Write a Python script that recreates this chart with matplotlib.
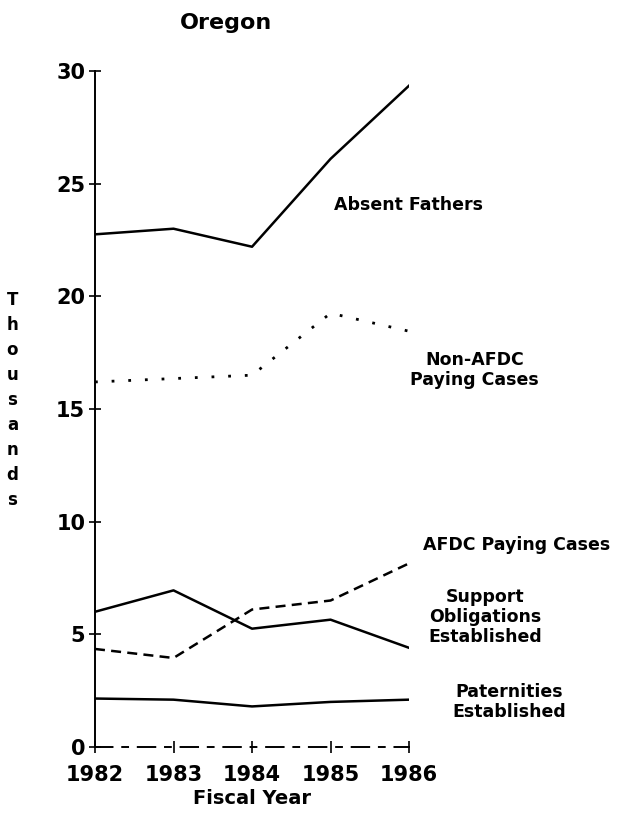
import matplotlib.pyplot as plt

# Oregon child support enforcement, thousands
years = [1982, 1983, 1984, 1985, 1986]
absent_fathers = [22.75, 23.0, 22.2, 26.1, 29.35]
non_afdc_paying = [16.2, 16.35, 16.5, 19.25, 18.45]
afdc_paying = [4.35, 3.95, 6.1, 6.5, 8.15]
support_oblig = [6.0, 6.95, 5.25, 5.65, 4.4]
paternities = [2.15, 2.1, 1.8, 2.0, 2.1]

yticks = [0, 5, 10, 15, 20, 25, 30]

fig = plt.figure(figsize=(6.22, 8.13), dpi=100)
ax = fig.add_axes([0.1527, 0.0812, 0.505, 0.8315])

ax.plot(years, absent_fathers, color='black', lw=1.8)
ax.plot(years, non_afdc_paying, color='black', lw=2.0, linestyle=(0, (1, 5)))
ax.plot(years, afdc_paying, color='black', lw=1.8, linestyle=(0, (4, 2.5)))
ax.plot(years, support_oblig, color='black', lw=1.8)
ax.plot(years, paternities, color='black', lw=1.8)

ax.set_xlim(1982, 1986)
ax.set_ylim(0, 30)
ax.set_xticks(years)
ax.set_yticks(yticks)
ax.tick_params(axis='both', direction='inout', length=8, width=1.2, labelsize=15)
ax.tick_params(axis='x', pad=9)
ax.tick_params(axis='y', pad=3)
for lab in ax.get_xticklabels() + ax.get_yticklabels():
    lab.set_fontweight('bold')

ax.spines['top'].set_visible(False)
ax.spines['right'].set_visible(False)
ax.spines['left'].set_linewidth(1.4)
ax.spines['bottom'].set_linewidth(1.4)
ax.spines['bottom'].set_linestyle((0, (9, 5, 3, 5)))

ax.set_xlabel('Fiscal Year', fontsize=14, fontweight='bold', labelpad=3)

# stacked y label
fig.text(0.02, 0.508, '\n'.join('Thousands'), fontsize=12, fontweight='bold',
         ha='center', va='center', linespacing=1.5)

fig.text(0.364, 0.972, 'Oregon', fontsize=16, fontweight='bold', ha='center', va='center')

# series labels
lab_kw = dict(fontsize=12.5, fontweight='bold', ha='center', va='center',
              transform=fig.transFigure, linespacing=1.15)
fig.text(0.656, 0.748, 'Absent Fathers', **lab_kw)
fig.text(0.763, 0.545, 'Non-AFDC\nPaying Cases', **lab_kw)
fig.text(0.830, 0.330, 'AFDC Paying Cases', **lab_kw)
fig.text(0.780, 0.241, 'Support\nObligations\nEstablished', **lab_kw)
fig.text(0.818, 0.137, 'Paternities\nEstablished', **lab_kw)

plt.savefig('out.png', dpi=100)
